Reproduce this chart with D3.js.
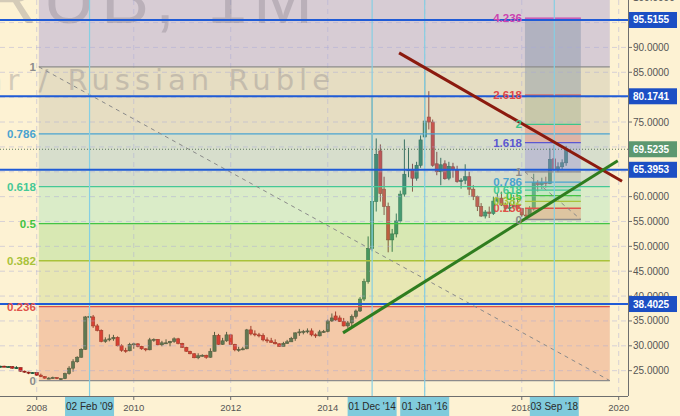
<!DOCTYPE html>
<html><head><meta charset="utf-8">
<script src="https://cdn.jsdelivr.net/npm/d3@7"></script>
<style>html,body{margin:0;padding:0;background:#fdf2d3;} svg{display:block;}</style>
</head><body>
<svg id="c" width="680" height="416"></svg>
<script>
// ---------------- DATA ----------------
// monthly candles, Apr 2007 .. Dec 2018
const firstMonth = "2007-04-01", lastMonth = "2018-12-01";
const open = [
 25.7,25.9,25.8,25.8,25.5,25.6,24.9,24.7,24.5,
 24.6,24.1,23.8,23.5,23.5,23.6,23.4,23.4,24.4,25.5,26.8,27.7,
 29.3,35.8,35.8,34.0,33.1,30.9,31.2,31.4,31.7,30.0,29.1,29.0,
 30.3,30.4,29.9,29.4,29.2,31.2,31.3,30.2,30.6,30.6,30.9,31.4,
 30.5,29.7,28.9,28.4,27.6,28.0,28.1,27.7,28.9,32.1,30.3,31.0,
 32.2,30.3,29.2,29.3,29.4,33.2,32.4,32.2,32.1,31.2,31.0,30.7,
 30.4,29.9,30.5,30.8,31.5,32.6,32.8,32.9,33.0,32.2,32.0,32.8,
 32.9,35.0,36.0,35.6,34.9,34.0,34.6,35.9,37.0,39.4,42.9,49.6,
 59.0,69.2,61.5,58.0,51.3,52.5,55.1,60.5,65.2,65.5,63.7,66.3,
 72.0,76.0,75.0,66.6,65.0,66.6,63.7,66.0,65.3,63.0,63.3,64.0,
 61.5,60.0,58.0,56.1,56.9,56.6,59.1,59.7,58.3,57.6,57.9,58.3,
 57.6,56.3,56.2,57.5,62.8,62.4,62.8,62.6,67.6,65.5,66.0,66.8];
const high = [
 26.0,26.0,25.9,25.9,25.9,25.6,25.0,24.8,24.7,
 24.7,24.4,23.9,23.7,23.8,23.7,23.5,24.6,25.9,27.3,27.9,29.5,
 36.0,36.6,36.2,34.4,33.3,31.7,32.3,32.2,31.9,30.3,29.6,30.6,
 30.6,30.5,30.0,29.5,31.6,31.5,31.3,31.0,31.3,31.0,31.7,31.6,
 30.6,29.8,29.0,28.5,28.5,28.3,28.2,29.5,32.8,32.4,31.6,32.8,
 32.3,30.4,29.8,29.8,33.4,34.0,33.1,32.6,32.5,31.7,31.6,31.3,
 30.5,30.8,31.2,31.8,32.7,33.4,33.2,33.5,33.5,32.5,33.2,33.2,
 35.3,36.5,36.9,36.1,35.6,35.0,36.3,37.3,39.8,43.5,52.0,80.0,
 71.7,70.5,64.0,58.8,53.5,56.6,61.2,71.5,69.8,66.6,67.0,72.3,
 86.0,81.2,75.5,69.0,67.8,67.3,67.0,66.8,66.2,63.7,66.5,65.0,
 62.3,60.2,58.7,57.3,58.0,60.0,60.8,61.0,58.8,58.8,60.3,59.4,
 57.7,57.6,58.1,64.6,63.3,63.8,64.0,69.7,70.4,66.9,67.5,70.2];
const low = [
 25.6,25.7,25.7,25.4,25.4,24.8,24.6,24.3,24.4,
 24.0,23.7,23.4,23.3,23.4,23.3,23.1,23.3,24.2,24.8,26.6,27.6,
 29.2,34.9,33.6,32.9,30.7,30.6,30.9,31.0,29.9,28.8,28.6,28.9,
 29.4,29.7,29.2,28.9,29.1,30.8,30.1,29.9,30.4,29.9,30.6,30.3,
 29.6,28.8,28.3,27.5,27.3,27.8,27.4,27.6,28.9,30.2,30.2,30.8,
 30.2,28.9,28.8,29.1,29.3,32.1,31.9,31.7,30.9,30.6,30.6,30.3,
 29.8,29.9,30.4,30.8,31.0,32.0,32.3,32.5,31.9,31.6,31.9,32.6,
 32.7,34.8,35.0,34.8,33.9,33.6,33.9,35.5,36.8,39.0,42.5,49.0,
 57.0,59.0,56.3,48.8,48.9,51.8,54.8,60.0,63.9,61.0,63.2,65.8,
 71.8,73.5,66.0,64.3,62.3,63.4,63.3,63.8,62.8,61.6,62.5,60.3,
 59.3,57.1,55.9,55.6,55.7,56.3,58.8,58.1,57.0,57.0,57.8,57.1,
 55.9,55.6,56.0,57.2,61.0,61.5,61.8,62.5,65.2,64.9,65.5,66.2];
const close = [
 25.9,25.8,25.8,25.5,25.6,24.9,24.7,24.5,24.6,
 24.1,23.8,23.5,23.5,23.6,23.4,23.4,24.4,25.5,26.8,27.7,29.3,
 35.8,35.9,34.0,33.1,30.9,31.2,31.4,31.7,30.0,29.1,29.0,30.3,
 30.4,29.9,29.4,29.2,31.2,31.3,30.2,30.6,30.6,30.9,31.4,30.5,
 29.7,28.9,28.4,27.6,28.0,28.1,27.7,28.9,32.1,30.3,31.0,32.2,
 30.3,29.2,29.3,29.4,33.2,32.4,32.2,32.1,31.2,31.0,30.7,30.4,
 29.9,30.5,30.8,31.5,32.6,32.8,32.9,33.0,32.2,32.0,32.8,32.9,
 35.0,35.6,35.2,34.9,34.0,34.6,35.9,37.0,39.4,42.9,49.6,59.0,
 68.5,60.6,58.0,51.3,52.5,55.1,60.5,64.5,65.5,63.7,66.3,71.4,
 75.2,75.0,66.3,65.0,66.4,63.6,66.1,65.4,63.0,63.3,64.0,61.5,
 60.0,58.0,56.1,56.9,56.6,59.1,59.7,58.3,57.6,57.9,58.3,57.6,
 56.3,56.2,57.5,62.8,62.4,62.8,62.6,67.5,65.5,66.0,66.8,69.5235];

const priceTicks = [25,30,35,40,45,50,55,60,65,70,75,80,85,90,95,100];
const yearTicks = ["2008","2010","2012","2014","2016","2018","2020"];
const hLines = [95.5155, 80.1741, 65.3953, 38.4025];
const lastPrice = 69.5235;
const markerDates = ["2009-02-02","2014-12-01","2016-01-01","2018-09-03"];
const markerLabels = ["02 Feb '09","01 Dec '14","01 Jan '16","03 Sep '18"];

const bigFibDates = ["2008-01-17","2019-10-26"];   // point "1" -> point "0"
const bigFibPrices = [86.1, 23.0];
const bigFibRatios = [0, 0.236, 0.382, 0.5, 0.618, 0.786, 1, 1.618];
const bigFibShown = [0, 0.236, 0.382, 0.5, 0.618, 0.786, 1];

const smallFibDates = ["2018-01-25","2019-03-22"];
const smallFibPrices = [64.96, 55.4];
const smallFibRatios = [0, 0.236, 0.382, 0.5, 0.618, 0.786, 1, 1.618, 2, 2.618, 4.236];

const redTrendDates = ["2015-06-22","2020-01-26"];
const redTrendPrices = [88.9, 63.1];
const greenTrendDates = ["2014-04-26","2019-12-25"];
const greenTrendPrices = [32.6, 67.2];

// ---------------- STYLE ----------------
const levelColor = {0:'#8c8c8c',0.236:'#e0524a',0.382:'#a9c23a',0.5:'#43c443',0.618:'#45c896',
  0.786:'#4aa3d0',1:'#8c8c8c',1.618:'#5b57d0',2:'#3cc48a',2.618:'#e04848',4.236:'#cc44b0'};
const zoneColor = {0:'#e37d5a',0.236:'#c1d577',0.382:'#93d877',0.5:'#99e1b5',0.618:'#8eb9c1',
  0.786:'#bbb6a4',1:'#8e88d8',1.618:'#ec6861',2:'#90a17d',2.618:'#69809a'};
const W = 680, H = 416, plotR = 628, plotB = 396;
const FONT = "'Liberation Sans', Arial, sans-serif";

const parse = d3.timeParse("%Y-%m-%d");
const x = d3.scaleTime().domain([new Date(2008,0,1), new Date(2020,0,1)]).range([36.7, 618.7]);
const y = d3.scaleLinear().domain([25, 95]).range([370.67, 22.56]);

const months = d3.timeMonth.range(parse(firstMonth), d3.timeMonth.offset(parse(lastMonth),1));
const candles = months.map((d,i)=>({d, o:open[i], h:high[i], l:low[i], c:close[i]}));

const svg = d3.select('#c');
svg.append('rect').attr('width',W).attr('height',H).attr('fill','#fdf2d3');
svg.append('clipPath').attr('id','pc').append('rect').attr('width',plotR).attr('height',plotB);
const g = svg.append('g').attr('clip-path','url(#pc)');

// candles
const cg = g.append('g');
candles.forEach(k=>{
  const up = k.c >= k.o;
  const cx = x(k.d);
  const col = up ? '#1b764f' : '#d42020';
  const edge = up ? '#0f4a31' : '#7d1a12';
  cg.append('line').attr('x1',cx).attr('x2',cx).attr('y1',y(k.h)).attr('y2',y(k.l))
    .attr('stroke',edge).attr('stroke-width',1);
  const top = y(Math.max(k.o,k.c)), bot = y(Math.min(k.o,k.c));
  cg.append('rect').attr('x',cx-1.6).attr('width',3.2).attr('y',top).attr('height',Math.max(1,bot-top))
    .attr('fill',col).attr('stroke',edge).attr('stroke-width',0.6);
});

// fib helper
function fib(dates, prices, ratios, shown, zoneOpacity){
  const x0 = x(parse(dates[0])), x1 = x(parse(dates[1]));
  const p1 = prices[0], p0 = prices[1];
  const lv = r => p0 + r*(p1-p0);
  const zg = g.append('g');
  for(let i=0;i<ratios.length-1;i++){
    const r=ratios[i], r2=ratios[i+1];
    zg.append('rect').attr('x',x0).attr('width',x1-x0)
      .attr('y',y(lv(r2))).attr('height',y(lv(r))-y(lv(r2)))
      .attr('fill',zoneColor[r]).attr('opacity',zoneOpacity);
  }
  return {x0,x1,lv,shown};
}
const big = fib(bigFibDates, bigFibPrices, bigFibRatios, bigFibShown, 0.35);
const small = fib(smallFibDates, smallFibPrices, smallFibRatios, smallFibRatios, 0.35);

// grid
const gg = g.append('g').attr('stroke','#a9a8d6').attr('stroke-opacity',0.45).attr('stroke-dasharray','5,4');
priceTicks.forEach(p=>gg.append('line').attr('x1',0).attr('x2',plotR).attr('y1',y(p)).attr('y2',y(p)));
yearTicks.forEach(t=>{const xx=x(parse(t+"-01-01")); gg.append('line').attr('x1',xx).attr('x2',xx).attr('y1',0).attr('y2',plotB);});

// watermark
g.append('text').text('USDRUB, 1M').attr('x',-185).attr('y',23).attr('font-family',FONT)
  .attr('font-size',72).attr('letter-spacing',6).attr('fill','rgb(120,115,125)').attr('opacity',0.3);
g.append('text').text('US Dollar / Russian Ruble').attr('x',335).attr('y',90).attr('text-anchor','end')
  .attr('font-family',"'DejaVu Sans', sans-serif").attr('font-size',29).attr('letter-spacing',5)
  .attr('fill','rgb(120,115,125)').attr('opacity',0.3);

// fib lines
function fibLines(f){
  f.shown.forEach(r=>{
    const yy = y(f.lv(r));
    g.append('line').attr('x1',f.x0).attr('x2',f.x1).attr('y1',yy).attr('y2',yy)
      .attr('stroke',levelColor[r]).attr('stroke-width',1.3);
  });
  g.append('line').attr('x1',f.x0).attr('y1',y(f.lv(1))).attr('x2',f.x1).attr('y2',y(f.lv(0)))
    .attr('stroke','#8a8a8a').attr('stroke-width',1).attr('stroke-dasharray','4,4');
}
fibLines(big); fibLines(small);

// markers (cyan verticals)
markerDates.forEach(d=>{const xx=x(parse(d));
  g.append('line').attr('x1',xx).attr('x2',xx).attr('y1',0).attr('y2',plotB).attr('stroke','#86cfe3').attr('stroke-width',1.2);});

// horizontal blue lines + last price
hLines.forEach(p=>g.append('line').attr('x1',0).attr('x2',plotR).attr('y1',y(p)).attr('y2',y(p))
  .attr('stroke','#1f5bd6').attr('stroke-width',2));
g.append('line').attr('x1',0).attr('x2',plotR).attr('y1',y(lastPrice)).attr('y2',y(lastPrice))
  .attr('stroke','#5b7a5b').attr('stroke-width',1).attr('stroke-dasharray','1,2');

// trend lines
const tl = d3.line().x(d=>x(parse(d[0]))).y(d=>y(d[1]));
g.append('path').attr('d',tl(redTrendDates.map((d,i)=>[d,redTrendPrices[i]]))).attr('stroke','#8b1a0e').attr('stroke-width',3).attr('fill','none');
g.append('path').attr('d',tl(greenTrendDates.map((d,i)=>[d,greenTrendPrices[i]]))).attr('stroke','#2f7d1f').attr('stroke-width',3).attr('fill','none');

// fib labels
function fibLabels(f){
  f.shown.forEach(r=>{
    g.append('text').text(String(r)).attr('x',f.x0-3).attr('y',y(f.lv(r))).attr('dy','0.35em')
      .attr('text-anchor','end').attr('font-family',FONT).attr('font-size',11.5).attr('font-weight','bold')
      .attr('fill',levelColor[r]);
  });
}
fibLabels(big); fibLabels(small);

// axes
svg.append('line').attr('x1',plotR+0.5).attr('x2',plotR+0.5).attr('y1',0).attr('y2',plotB).attr('stroke','#6e6e6e');
svg.append('line').attr('x1',0).attr('x2',plotR).attr('y1',plotB+0.5).attr('y2',plotB+0.5).attr('stroke','#6e6e6e');
const boxPrices = hLines.concat([lastPrice]);
priceTicks.forEach(p=>{
  svg.append('line').attr('x1',plotR).attr('x2',plotR+4).attr('y1',y(p)).attr('y2',y(p)).attr('stroke','#6e6e6e');
  const hidden = boxPrices.some(b=>Math.abs(y(b)-y(p))<7);
  if(!hidden) svg.append('text').text(d3.format('.4f')(p)).attr('x',633).attr('y',y(p)).attr('dy','0.35em')
    .attr('font-family',FONT).attr('font-size',10).attr('fill','#555');
});
yearTicks.forEach(t=>{const xx=x(parse(t+"-01-01"));
  svg.append('line').attr('x1',xx).attr('x2',xx).attr('y1',plotB).attr('y2',plotB+4).attr('stroke','#6e6e6e');
  const hidden = markerDates.some(d=>Math.abs(x(parse(d))-xx)<30);
  if(!hidden) svg.append('text').text(t).attr('x',xx).attr('y',411).attr('text-anchor','middle')
    .attr('font-family',FONT).attr('font-size',9.5).attr('fill','#555');
});
// marker date boxes
markerDates.forEach((d,i)=>{const xx=x(parse(d));
  svg.append('rect').attr('x',xx-24.5).attr('y',397).attr('width',49).attr('height',19).attr('fill','#80cbdc');
  svg.append('text').text(markerLabels[i]).attr('x',xx).attr('y',410).attr('text-anchor','middle')
    .attr('font-family',FONT).attr('font-size',10).attr('fill','#2a2a2a');
});
// price boxes
function priceBox(p, fillc){
  svg.append('rect').attr('x',plotR+1).attr('y',y(p)-8).attr('width',48).attr('height',16).attr('fill',fillc);
  svg.append('text').text(d3.format('.4f')(p)).attr('x',633).attr('y',y(p)).attr('dy','0.35em')
    .attr('font-family',FONT).attr('font-size',10).attr('font-weight','bold').attr('fill','#fff');
}
hLines.forEach(p=>priceBox(p,'#1c4fc4'));
priceBox(lastPrice,'#5c9870');
</script>
</body></html>
